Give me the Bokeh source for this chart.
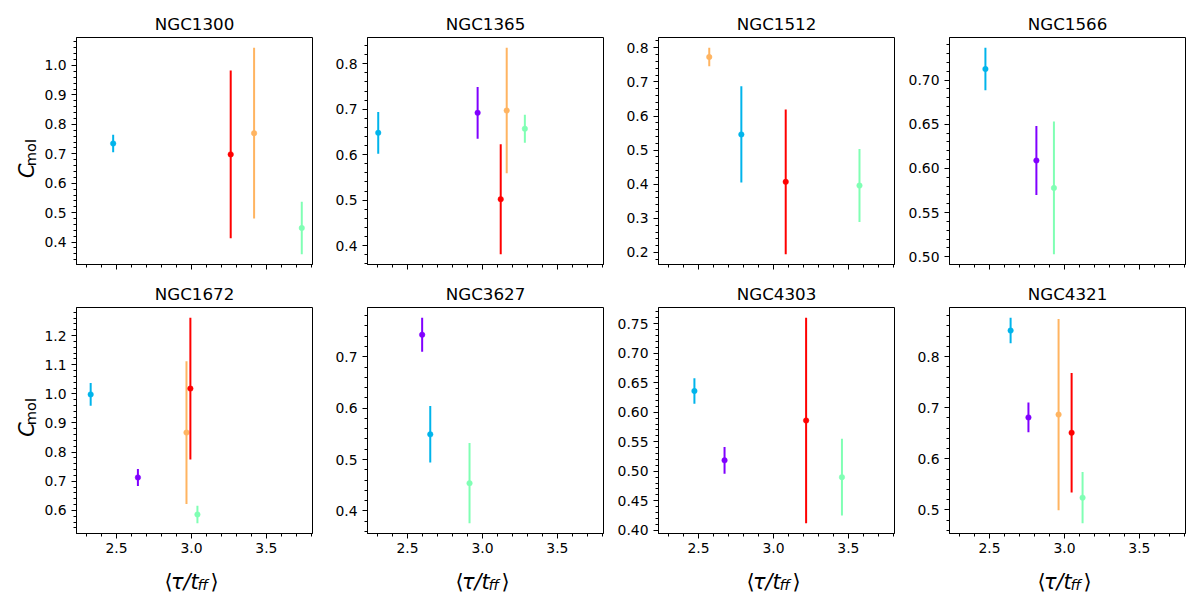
import math
from bokeh.plotting import figure
from bokeh.layouts import column, row
from bokeh.models import Range1d, SingleIntervalTicker, PrintfTickFormatter
from bokeh.core.properties import value
from bokeh.embed import file_html
from bokeh.resources import INLINE

# ---------------- data ----------------
galaxies = ["NGC1300", "NGC1365", "NGC1512", "NGC1566",
            "NGC1672", "NGC3627", "NGC4303", "NGC4321"]

# colour per environment class (matplotlib "rainbow", 5 levels)
class_colors = ["#8000ff", "#00b4eb", "#80ffb4", "#ffb461", "#ff0000"]

# per galaxy: class index, <tau/t_ff>, C_mol, error on C_mol
NGC1300_cls = [1, 2, 3, 4]
NGC1300_tau = [2.478, 3.736, 3.418, 3.262]
NGC1300_c = [0.735, 0.448, 0.770, 0.698]
NGC1300_err = [0.030, 0.089, 0.290, 0.285]

NGC1365_cls = [0, 1, 2, 3, 4]
NGC1365_tau = [2.968, 2.305, 3.283, 3.162, 3.122]
NGC1365_c = [0.692, 0.648, 0.657, 0.697, 0.502]
NGC1365_err = [0.057, 0.046, 0.031, 0.138, 0.121]

NGC1512_cls = [1, 2, 3, 4]
NGC1512_tau = [2.786, 3.574, 2.572, 3.082]
NGC1512_c = [0.546, 0.396, 0.773, 0.407]
NGC1512_err = [0.141, 0.107, 0.027, 0.212]

NGC1566_cls = [0, 1, 2]
NGC1566_tau = [2.813, 2.473, 2.930]
NGC1566_c = [0.609, 0.7125, 0.578]
NGC1566_err = [0.039, 0.024, 0.075]

NGC1672_cls = [0, 1, 2, 3, 4]
NGC1672_tau = [2.643, 2.328, 3.040, 2.967, 2.993]
NGC1672_c = [0.713, 0.998, 0.586, 0.867, 1.018]
NGC1672_err = [0.029, 0.039, 0.030, 0.245, 0.243]

NGC3627_cls = [0, 1, 2]
NGC3627_tau = [2.598, 2.652, 2.914]
NGC3627_c = [0.743, 0.549, 0.454]
NGC3627_err = [0.033, 0.055, 0.078]

NGC4303_cls = [0, 1, 2, 4]
NGC4303_tau = [2.674, 2.473, 3.457, 3.218]
NGC4303_c = [0.5186, 0.636, 0.490, 0.586]
NGC4303_err = [0.0226, 0.0215, 0.065, 0.174]

NGC4321_cls = [0, 1, 2, 3, 4]
NGC4321_tau = [2.760, 2.641, 3.121, 2.961, 3.048]
NGC4321_c = [0.681, 0.851, 0.524, 0.6865, 0.651]
NGC4321_err = [0.029, 0.025, 0.050, 0.187, 0.117]

y_tick_step = [0.1, 0.1, 0.1, 0.05, 0.1, 0.1, 0.05, 0.1]
y_tick_format = ["%.1f", "%.1f", "%.1f", "%.2f", "%.1f", "%.1f", "%.2f", "%.1f"]
x_tick_step = 0.5
x_tick_format = "%.1f"

# ---------------- assemble ----------------
G = globals()
data = {g: (G[g + "_cls"], G[g + "_tau"], G[g + "_c"], G[g + "_err"]) for g in galaxies}

all_x = [x for g in galaxies for x in data[g][1]]
xmin, xmax = min(all_x), max(all_x)
xpad = 0.05 * (xmax - xmin)
x_lo, x_hi = xmin - xpad, xmax + xpad

FONT = "DejaVu Sans"
TICK_FS = "13.9px"
LAB_FS = "20.8px"
SUB_FS = "14.6px"

FRAME_W, FRAME_H = 236, 227
YSTRIP_W = 40


def strip(w, h):
    s = figure(width=w, height=h, x_range=Range1d(0, w), y_range=Range1d(0, h),
               x_axis_type=None, y_axis_type=None, min_border=0,
               output_backend="svg", toolbar_location=None)
    s.outline_line_color = None
    s.background_fill_color = "white"
    s.border_fill_color = "white"
    return s


def add_text(s, x, y, t, size, style="normal", angle=0.0):
    s.text(x=[x], y=[y], text=[t], angle=angle, text_font=value(FONT),
           text_font_size=value(size), text_font_style=value(style),
           text_color="black", text_align="left", text_baseline="alphabetic")


def y_label_strip(h, center_y):
    s = strip(YSTRIP_W, h)
    start = center_y - 21
    add_text(s, 26, start, "C", LAB_FS, "italic", math.pi / 2)
    add_text(s, 30, start + 14.5, "mol", SUB_FS, "normal", math.pi / 2)
    return s


def x_label_strip(w, center_x, h):
    s = strip(w, h)
    start = center_x - 30
    base = 18
    add_text(s, start, base, "⟨", LAB_FS)
    add_text(s, start + 6.5, base, "τ/t", LAB_FS, "italic")
    add_text(s, start + 33, base - 3, "ff", SUB_FS, "italic")
    add_text(s, start + 46, base, "⟩", LAB_FS)
    return s


figs = []
for i, g in enumerate(galaxies):
    r, c = divmod(i, 4)
    cls, tau, cm, err = data[g]
    lo = [v - e for v, e in zip(cm, err)]
    hi = [v + e for v, e in zip(cm, err)]
    ymin, ymax = min(lo), max(hi)
    ypad = 0.05 * (ymax - ymin)

    b_left = 36 if c == 0 else 50
    b_top = 37 if r == 0 else 29
    b_bot = 13 if r == 0 else 30
    p = figure(width=b_left + FRAME_W + 5,
               height=b_top + FRAME_H + b_bot,
               x_range=Range1d(x_lo, x_hi),
               y_range=Range1d(ymin - ypad, ymax + ypad),
               min_border_left=b_left, min_border_right=5,
               min_border_top=b_top, min_border_bottom=b_bot,
               output_backend="svg", toolbar_location=None,
               title=g)
    p.background_fill_color = "white"
    p.border_fill_color = "white"
    p.outline_line_color = "black"
    p.outline_line_alpha = 1.0
    p.outline_line_width = 1
    p.xgrid.visible = False
    p.ygrid.visible = False

    p.title.align = "center"
    p.title.text_font = FONT
    p.title.text_font_size = "16.7px"
    p.title.text_font_style = "normal"
    p.title.text_color = "black"
    p.title.standoff = 8

    p.xaxis.ticker = SingleIntervalTicker(interval=x_tick_step, num_minor_ticks=5)
    p.yaxis.ticker = SingleIntervalTicker(interval=y_tick_step[i], num_minor_ticks=5)
    p.xaxis.formatter = PrintfTickFormatter(format=x_tick_format)
    p.yaxis.formatter = PrintfTickFormatter(format=y_tick_format[i])
    for ax in (p.xaxis[0], p.yaxis[0]):
        ax.axis_line_color = "black"
        ax.major_tick_line_color = "black"
        ax.minor_tick_line_color = "black"
        ax.major_tick_in = 0
        ax.major_tick_out = 5
        ax.minor_tick_in = 0
        ax.minor_tick_out = 3
        ax.major_label_text_font = FONT
        ax.major_label_text_font_size = TICK_FS
        ax.major_label_text_color = "black"
        ax.major_label_standoff = 5
    p.xaxis.major_label_standoff = 4
    if r == 0:
        p.xaxis.major_label_text_color = None

    order = sorted(range(len(cls)), key=lambda k: cls[k])
    for k in order:
        col = class_colors[cls[k]]
        p.segment(x0=[tau[k]], y0=[lo[k]], x1=[tau[k]], y1=[hi[k]],
                  line_color=col, line_width=2)
        p.scatter(x=[tau[k]], y=[cm[k]], size=5.5, fill_color=col,
                  line_color=col, line_width=0.5)
    figs.append(p)

h0 = figs[0].height
h1 = figs[4].height
ys0 = y_label_strip(h0, h0 - (37 + FRAME_H / 2))
ys1 = y_label_strip(h1, h1 - (29 + FRAME_H / 2))

XSTRIP_H = 36
xstrips = []
for c in range(4):
    w = figs[4 + c].width + (YSTRIP_W if c == 0 else 0)
    left = (YSTRIP_W + 36) if c == 0 else 50
    xstrips.append(x_label_strip(w, left + FRAME_W / 2, XSTRIP_H))

layout = column(row(ys0, *figs[:4]), row(ys1, *figs[4:]), row(*xstrips))
open("out.html", "w").write(file_html(layout, INLINE))
